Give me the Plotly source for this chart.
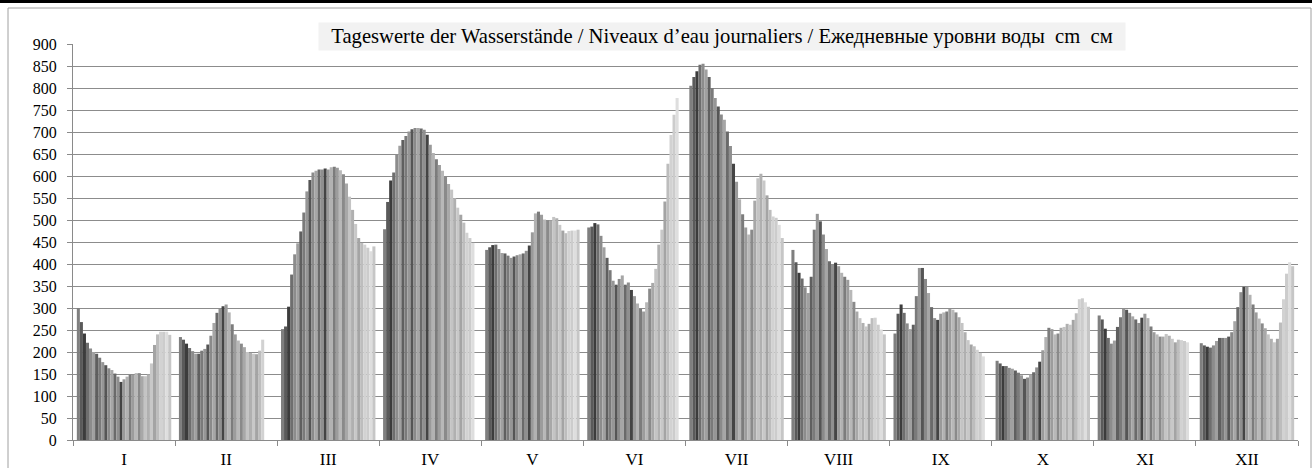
import plotly.graph_objects as go

months = ["I", "II", "III", "IV", "V", "VI", "VII", "VIII", "IX", "X", "XI", "XII"]

jan = [300, 268, 242, 221, 208, 200, 196, 187, 177, 170, 163, 159, 151, 144, 132, 138,
       144, 148, 148, 152, 152, 145, 145, 149, 174, 216, 240, 246, 246, 246, 239]
feb = [234, 228, 219, 209, 202, 196, 196, 203, 207, 217, 237, 266, 289, 298, 304, 308,
       290, 263, 240, 226, 219, 211, 200, 198, 196, 195, 203, 228]
mar = [252, 258, 303, 376, 422, 447, 474, 517, 565, 591, 608, 612, 615, 615, 617, 615,
       620, 621, 619, 613, 604, 583, 553, 523, 491, 459, 448, 444, 437, 429, 440]
apr = [479, 541, 590, 608, 648, 669, 682, 691, 701, 706, 709, 709, 708, 705, 694, 671,
       652, 638, 625, 612, 599, 582, 569, 550, 528, 512, 494, 471, 459, 448]
may = [432, 438, 443, 444, 434, 425, 424, 419, 414, 417, 420, 422, 424, 430, 442, 472,
       515, 519, 512, 501, 499, 499, 507, 504, 489, 476, 470, 475, 476, 476, 478]
jun = [483, 485, 493, 490, 464, 438, 414, 386, 362, 353, 366, 374, 353, 358, 341, 327,
       310, 298, 292, 313, 344, 357, 389, 444, 478, 542, 628, 693, 739, 777]
jul = [805, 825, 838, 853, 855, 842, 825, 800, 777, 758, 740, 728, 701, 668, 628, 587,
       547, 513, 483, 467, 478, 544, 595, 605, 590, 556, 523, 508, 505, 489, 459]
aug = [432, 404, 380, 367, 347, 334, 371, 478, 514, 497, 467, 434, 406, 398, 403, 395,
       380, 371, 364, 341, 314, 292, 277, 266, 258, 264, 277, 278, 262, 251, 240]
sep = [242, 287, 308, 289, 265, 252, 262, 327, 391, 391, 366, 334, 302, 277, 273, 287,
       290, 292, 298, 296, 290, 279, 266, 245, 227, 217, 213, 205, 198, 190]
oct_ = [180, 174, 168, 168, 164, 162, 158, 153, 147, 139, 142, 149, 154, 165, 178, 204,
        234, 255, 252, 240, 242, 255, 257, 264, 262, 273, 288, 320, 322, 313, 303]
nov = [283, 274, 253, 232, 219, 226, 257, 279, 298, 296, 289, 281, 274, 266, 278, 287,
       277, 258, 245, 240, 235, 235, 241, 237, 230, 222, 228, 227, 225, 222]
dec = [220, 215, 212, 210, 215, 225, 232, 232, 232, 235, 245, 270, 302, 336, 348, 348,
       330, 308, 290, 276, 265, 254, 240, 230, 222, 230, 267, 320, 378, 404, 395]

monthly = [jan, feb, mar, apr, may, jun, jul, aug, sep, oct_, nov, dec]

y_ticks = list(range(0, 901, 50))

day_colors = [
    "#7f7f7f", "#5a5a5a", "#3c3c3c", "#6e6e6e", "#8c8c8c", "#a0a0a0", "#5f5f5f", "#7a7a7a",
    "#969696", "#555555", "#8a8a8a", "#a6a6a6", "#6a6a6a", "#8f8f8f", "#444444", "#9a9a9a",
    "#b2b2b2", "#7c7c7c", "#9c9c9c", "#b8b8b8", "#8a8a8a", "#a8a8a8", "#c4c4c4", "#b0b0b0",
    "#c8c8c8", "#a4a4a4", "#bdbdbd", "#d2d2d2", "#cccccc", "#dedede", "#c6c6c6",
]

SERIF = "Liberation Serif, Times New Roman, serif"

fig = go.Figure()
for d in range(31):
    vals = [m[d] if d < len(m) else None for m in monthly]
    fig.add_trace(go.Bar(
        x=months, y=vals, name=str(d + 1),
        marker=dict(color=day_colors[d], line=dict(width=0)),
        showlegend=False,
    ))

W, H = 1312, 468
L, R, T, B = 73, 14, 44, 28
pw, ph = W - L - R, H - T - B

def px_x(p):
    return (p - L) / pw

def px_y(p):
    return (H - B - p) / ph

fig.update_layout(
    width=W, height=H,
    margin=dict(l=L, r=R, t=T, b=B, autoexpand=False),
    paper_bgcolor="white", plot_bgcolor="white",
    barmode="group", bargap=0.075, bargroupgap=0,
    font=dict(family=SERIF, size=16, color="black"),
    xaxis=dict(
        type="category", tickson="boundaries", ticks="outside", ticklen=5,
        tickcolor="#8a8a8a", showline=True, linecolor="#8a8a8a", linewidth=1,
        showgrid=False, tickfont=dict(family=SERIF, size=17, color="black"),
        ticklabelstandoff=4, automargin=False,
    ),
    yaxis=dict(
        range=[0, 900], tickvals=y_ticks, ticks="outside", ticklen=5,
        tickcolor="#8a8a8a", showline=True, linecolor="#8a8a8a", linewidth=1,
        showgrid=True, gridcolor="#8c8c8c", gridwidth=1, zeroline=False,
        tickfont=dict(family=SERIF, size=16, color="black"), ticklabelstandoff=7,
        automargin=False,
    ),
    shapes=[
        dict(type="line", xref="paper", yref="paper", x0=px_x(0), x1=px_x(W),
             y0=px_y(1.5), y1=px_y(1.5), line=dict(color="black", width=3)),
        dict(type="rect", xref="paper", yref="paper", x0=px_x(8), x1=px_x(1311),
             y0=px_y(475), y1=px_y(8), line=dict(color="#a0a0a0", width=1)),
    ],
    annotations=[dict(
        text="\u00a0\u00a0Tageswerte der Wasserstände / Niveaux d’eau journaliers / Ежедневные уровни воды\u00a0\u00a0cm\u00a0\u00a0см\u00a0\u00a0",
        xref="paper", yref="paper", x=px_x(722), y=px_y(36.5),
        xanchor="center", yanchor="middle", showarrow=False,
        font=dict(family=SERIF, size=20.6, color="black"),
        bgcolor="#f2f2f2", borderpad=2,
    )],
)

fig.write_html(
    "out.html",
    config={"displayModeBar": False},
    post_script="document.body.style.margin='0';document.body.style.overflow='hidden';",
)
